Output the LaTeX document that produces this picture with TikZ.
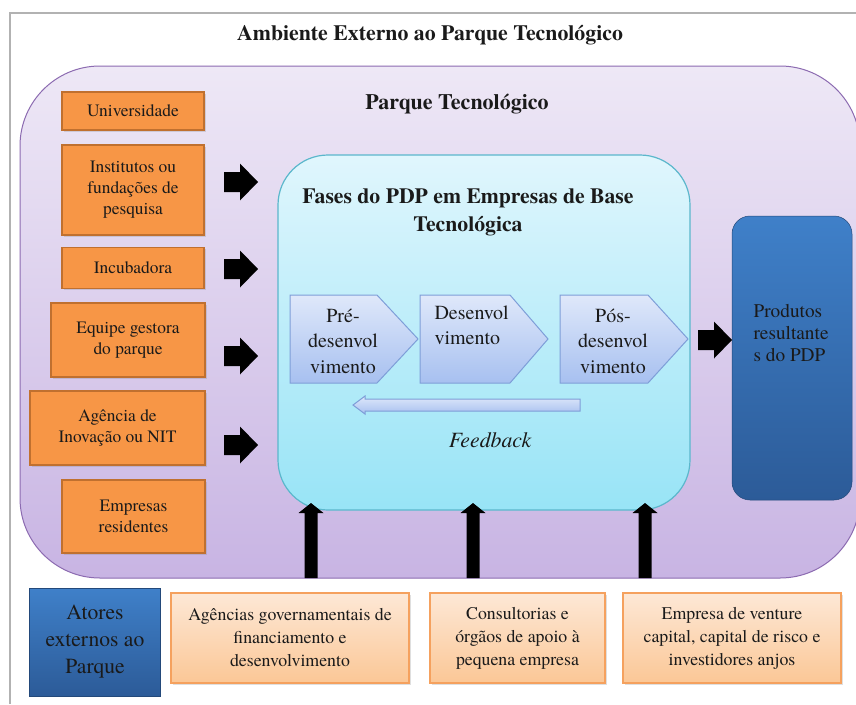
\documentclass[tikz,border=0pt]{standalone}
\usepackage{fontspec}
\setmainfont{TeX Gyre Termes}
\usetikzlibrary{shadows}
\definecolor{parktop}{HTML}{EEE8F6}
\definecolor{parkbot}{HTML}{C8B4E3}
\definecolor{parkline}{HTML}{8C6BB1}
\definecolor{cyantop}{HTML}{E0F6FD}
\definecolor{cyanbot}{HTML}{98E4F6}
\definecolor{cyanline}{HTML}{5BB7CC}
\definecolor{orfill}{HTML}{F79646}
\definecolor{orline}{HTML}{C0702F}
\definecolor{ltortop}{HTML}{FDE8D6}
\definecolor{ltorbot}{HTML}{FBC796}
\definecolor{ltorline}{HTML}{F5A15E}
\definecolor{bluetop}{HTML}{3F80C9}
\definecolor{bluebot}{HTML}{2C5B98}
\definecolor{chevtop}{HTML}{DFE8FA}
\definecolor{chevbot}{HTML}{A7C0F0}
\definecolor{chevline}{HTML}{7E9ED8}
\definecolor{txt}{HTML}{1A1A1A}
\tikzset{
  every node/.style={text=txt},
  obox/.style={draw=orline, line width=1.5, fill=orfill, align=center,
    font=\fontsize{17.4}{21}\selectfont, inner sep=0pt,
    drop shadow={shadow xshift=1.5pt, shadow yshift=-1.5pt, opacity=0.25}},
  lbox/.style={draw=ltorline, line width=1.2, top color=ltortop, bottom color=ltorbot,
    align=center, font=\fontsize{17.8}{23}\selectfont, inner sep=0pt,
    drop shadow={shadow xshift=1.5pt, shadow yshift=-1.5pt, opacity=0.25}},
  bbox/.style={top color=bluetop, bottom color=bluebot, draw=bluebot!80!black, line width=0.5},
  chev/.style={draw=chevline, line width=1, top color=chevtop, bottom color=chevbot},
  chevtext/.style={align=center, font=\fontsize{20}{25.5}\selectfont},
  rarrow/.pic={\fill[black] (-17,-10) -- (-1,-10) -- (-1,-18.5) -- (17,0) -- (-1,18.5) -- (-1,10) -- (-17,10) -- cycle;},
  uarrow/.pic={\fill[black] (-6.5,75) -- (-6.5,10) -- (-12.5,10) -- (0,0) -- (12.5,10) -- (6.5,10) -- (6.5,75) -- cycle;},
}
\begin{document}
\begin{tikzpicture}[x=1pt,y=-1pt]
\useasboundingbox (0,0) rectangle (856,704);
\clip (0,0) rectangle (856,704);
\fill[white] (0,0) rectangle (856,704);
% outer frame
\draw[gray!60, line width=1.3] (10,704) -- (10,13) -- (860,13);
\node[font=\bfseries\fontsize{21.8}{25}\selectfont] (title) at (430,35) {Ambiente Externo ao Parque Tecnológico};
% park
\node[draw=parkline, line width=1, top color=parktop, bottom color=parkbot,
  rounded corners=80, minimum width=840, minimum height=512, inner sep=0pt] (park) at (440,322) {};
\node[font=\bfseries\fontsize{22}{25}\selectfont] (parktitle) at (457,104) {Parque Tecnológico};
% left orange boxes
\node[obox, minimum width=142, minimum height=38] (univ) at (133,111) {Universidade};
\node[obox, minimum width=142, minimum height=90] (inst) at (133,190) {Institutos ou\\fundações de\\pesquisa};
\node[obox, minimum width=142, minimum height=41] (incub) at (133,268) {Incubadora};
\node[obox, minimum width=154, minimum height=74] (equipe) at (128,340) {Equipe gestora\\do parque};
\node[obox, minimum width=175, minimum height=74] (agencia) at (117.5,428) {Agência de\\Inovação ou NIT};
\node[obox, minimum width=143, minimum height=73] (empres) at (133.5,516.5) {Empresas\\residentes};
% cyan phases box
\node[draw=cyanline, line width=1.2, top color=cyantop, bottom color=cyanbot,
  rounded corners=50, minimum width=412, minimum height=355, inner sep=0pt] (fases) at (484,332.5) {};
\node[align=center, font=\bfseries\fontsize{21.7}{28}\selectfont] (fasestitle) at (468,212) {Fases do PDP em Empresas de Base\\Tecnológica};
% chevrons
\path[chev] (290,295) -- (377,295) -- (418,339) -- (377,383) -- (290,383) -- cycle;
\path[chev] (420,295) -- (510,295) -- (548,339) -- (510,383) -- (420,383) -- cycle;
\path[chev] (560,295) -- (648,295) -- (688,339) -- (648,383) -- (560,383) -- cycle;
\node[chevtext] (pre) at (343,341) {Pré-\\desenvol\\vimento};
\node[chevtext, align=left, anchor=north west] (desenv) at (431,302) {Desenvol\\vimento};
\node[chevtext] (pos) at (613,341) {Pós-\\desenvol\\vimento};
% feedback arrow
\path[chev] (580,399) -- (365,399) -- (365,396) -- (353,405) -- (365,414) -- (365,411) -- (580,411) -- cycle;
\node[font=\itshape\fontsize{21.8}{25}\selectfont] (feedback) at (490,440) {Feedback};
% products
\node[bbox, rounded corners=18, minimum width=120, minimum height=284, inner sep=0pt] (prod) at (792,358) {};
\node[align=left, anchor=west, font=\fontsize{19.3}{22}\selectfont] (prodtext) at (750,333) {Produtos\\resultante\\s do PDP};
% black block arrows
\pic at (241,182) {rarrow};
\pic at (241,269) {rarrow};
\pic at (241,356) {rarrow};
\pic at (241,445) {rarrow};
\pic at (715,340) {rarrow};
\pic at (311,503) {uarrow};
\pic at (473,503) {uarrow};
\pic at (645,503) {uarrow};
% bottom row
\node[bbox, minimum width=131, minimum height=108, inner sep=0pt, align=center,
  font=\fontsize{21.6}{27}\selectfont] (atores) at (95,642) {Atores\\externos ao\\Parque};
\node[lbox, minimum width=238, minimum height=90] (agfin) at (290,638) {Agências governamentais de\\financiamento e\\desenvolvimento};
\node[lbox, minimum width=175, minimum height=90] (consult) at (517.5,638) {Consultorias e\\órgãos de apoio à\\pequena empresa};
\node[lbox, minimum width=218, minimum height=90] (venture) at (732,638) {Empresa de venture\\capital, capital de risco e\\investidores anjos};
\end{tikzpicture}
\end{document}
